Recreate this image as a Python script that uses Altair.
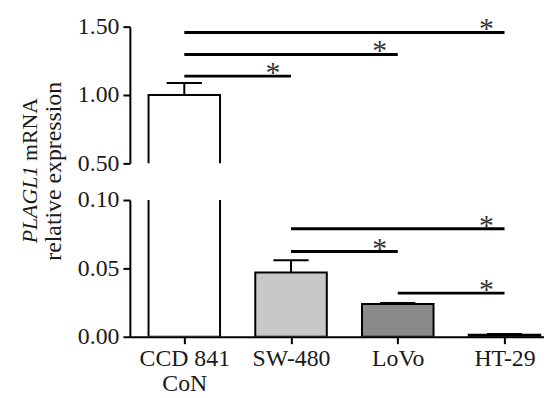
import altair as alt
import pandas as pd

categories = ["CCD 841 CoN", "SW-480", "LoVo", "HT-29"]
label_lines = [["CCD 841", "CoN"], ["SW-480"], ["LoVo"], ["HT-29"]]
positions = [0, 1, 2, 3]
means = [1.00, 0.047, 0.024, 0.0015]
errors = [0.087, 0.009, 0.0007, 0.0005]
fills = ["#ffffff", "#c8c8c8", "#8a8a8a", "#3c3c3c"]

top_ticks = [0.5, 1.0, 1.5]
bottom_ticks = [0.0, 0.05, 0.10]

top_sig_from = [0, 0, 0]
top_sig_to = [1, 2, 3]
top_sig_y = [1.138, 1.297, 1.457]
bot_sig_from = [1, 1, 2]
bot_sig_to = [3, 2, 3]
bot_sig_y = [0.079, 0.0623, 0.0319]

FONT = "Liberation Serif"
HALF_BAR = 0.335
HALF_CAP = 0.165
STAR_OFF = 0.17

bars = pd.DataFrame({
    "cat": categories,
    "pos": positions,
    "mean": means,
    "err": errors,
})
bars["x1"] = bars["pos"] - HALF_BAR
bars["x2"] = bars["pos"] + HALF_BAR
bars["base"] = 0.0
bars["top"] = bars["mean"] + bars["err"]
bars["c1"] = bars["pos"] - HALF_CAP
bars["c2"] = bars["pos"] + HALF_CAP

x_scale = alt.Scale(domain=[-0.51, 3.37], nice=False, zero=False)
label_expr = "[" + ",".join(
    "[" + ",".join("'" + s + "'" for s in lines) + "]" for lines in label_lines
) + "][datum.value]"


def panel(domain, ticks, sig_from, sig_to, sig_y, show_x):
    y_scale = alt.Scale(domain=domain, nice=False, zero=False)
    y_axis = alt.Axis(values=ticks, format=".2f", title=None)
    if show_x:
        x_axis = alt.Axis(values=positions, labelExpr=label_expr, title=None,
                          labelLineHeight=25, labelPadding=3)
    else:
        x_axis = None
    base = alt.Chart(bars)
    bar = base.mark_bar(stroke="black", strokeWidth=2, clip=True).encode(
        x=alt.X("x1:Q", scale=x_scale, axis=x_axis),
        x2="x2:Q",
        y=alt.Y("base:Q", scale=y_scale, axis=y_axis),
        y2="mean:Q",
        fill=alt.Fill("cat:N", scale=alt.Scale(domain=categories, range=fills), legend=None),
    )
    stem = base.mark_rule(color="black", strokeWidth=2, clip=True).encode(
        x="pos:Q", y="mean:Q", y2="top:Q"
    )
    cap = base.mark_rule(color="black", strokeWidth=2, clip=True).encode(
        x="c1:Q", x2="c2:Q", y="top:Q"
    )
    sig = pd.DataFrame({"f": sig_from, "t": sig_to, "y": sig_y})
    sig["star_x"] = sig["t"] - STAR_OFF
    sig["star"] = "*"
    lines = alt.Chart(sig).mark_rule(color="black", strokeWidth=3).encode(
        x="f:Q", x2="t:Q", y="y:Q"
    )
    stars = alt.Chart(sig).mark_text(
        font=FONT, fontSize=30, color="#333333", baseline="alphabetic", dy=6
    ).encode(x="star_x:Q", y="y:Q", text="star:N")
    return [bar, stem, cap, lines, stars]


one = pd.DataFrame({"k": [0]})
anchor = alt.Chart(one).mark_rule(color="white", strokeWidth=1).encode(
    x=alt.value(-122), x2=alt.value(-121), y=alt.value(-16)
)
t_ital = alt.Chart(one).mark_text(
    font=FONT, fontSize=22, fontStyle="italic", angle=270, align="right",
    baseline="middle", color="#1a1a1a"
).encode(x=alt.value(-101), y=alt.value(140.5), text=alt.value("PLAGL1"))
t_norm = alt.Chart(one).mark_text(
    font=FONT, fontSize=22, angle=270, align="left",
    baseline="middle", color="#1a1a1a", dx=5
).encode(x=alt.value(-101), y=alt.value(140.5), text=alt.value("mRNA"))
t_line2 = alt.Chart(one).mark_text(
    font=FONT, fontSize=24, angle=270, align="center",
    baseline="middle", color="#1a1a1a"
).encode(x=alt.value(-77), y=alt.value(146), text=alt.value("relative expression"))

top = alt.layer(
    *panel([0.5, 1.5], top_ticks, top_sig_from, top_sig_to, top_sig_y, False),
    anchor, t_ital, t_norm, t_line2,
).properties(width=418, height=138)

bottom = alt.layer(
    *panel([0.0, 0.1], bottom_ticks, bot_sig_from, bot_sig_to, bot_sig_y, True)
).properties(width=418, height=138)

chart = alt.vconcat(top, bottom, spacing=37, bounds="flush").properties(
    padding=0, background="white"
).configure_view(stroke=None).configure_axis(
    labelFont=FONT, labelFontSize=24, labelColor="#1a1a1a",
    domainColor="black", domainWidth=2, tickColor="black", tickWidth=2,
    tickSize=7, labelPadding=4, grid=False,
)

chart.save("out.html", embed_options={"renderer": "svg", "actions": False})
